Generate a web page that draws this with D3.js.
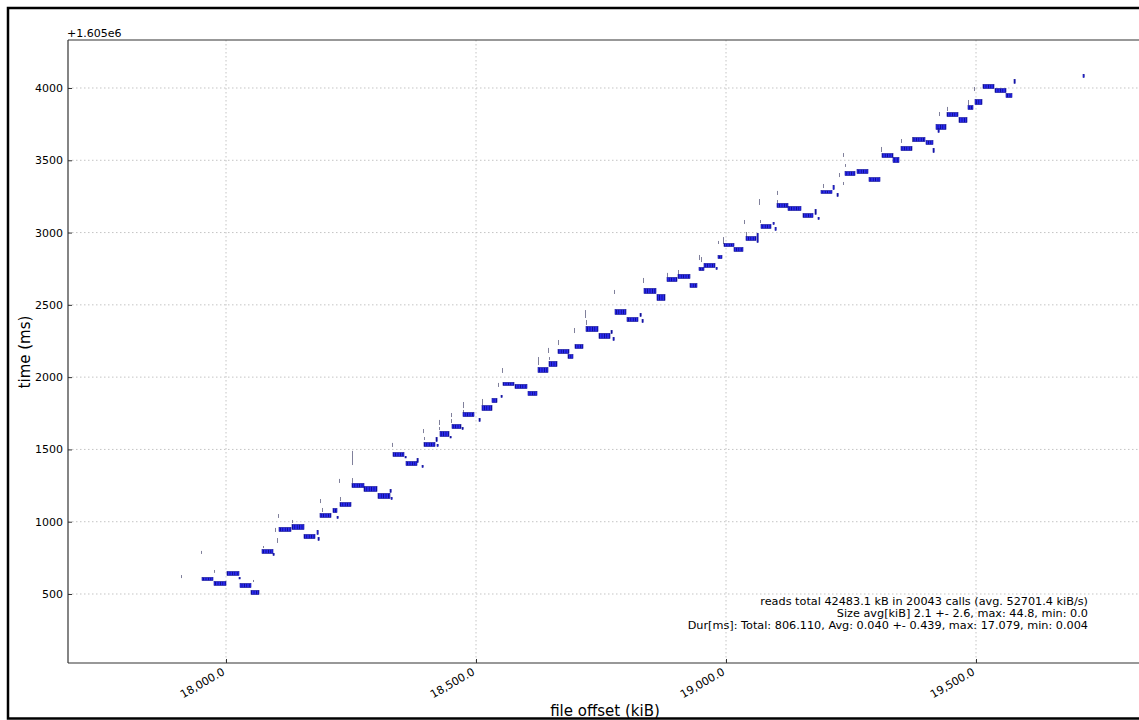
<!DOCTYPE html>
<html>
<head>
<meta charset="utf-8">
<script src="https://cdn.jsdelivr.net/npm/d3@7/dist/d3.min.js"></script>
<style>
  html, body { margin: 0; padding: 0; background: #fff; }
  svg { display: block; }
  text { font-family: "DejaVu Sans", sans-serif; fill: #000; }
</style>
</head>
<body>
<svg id="chart" width="1139" height="720"></svg>
<script>
// Read bursts: file offset range (kiB) and time range (ms, relative to 1.605e6)
const burstOffsetStart = [17952,17976,18002,18026,18028,18050,18072,18094,18106,18132,18156,18182,18184,18188,18214,18222,18228,18252,18276,18304,18328,18330,18334,18358,18360,18382,18392,18396,18420,18422,18428,18448,18452,18472,18474,18506,18512,18532,18550,18554,18578,18604,18624,18646,18664,18684,18698,18720,18746,18770,18774,18778,18802,18828,18832,18836,18862,18882,18904,18928,18946,18956,18980,18984,18996,19016,19040,19062,19070,19094,19098,19102,19124,19154,19178,19184,19190,19214,19222,19238,19262,19286,19312,19334,19350,19374,19400,19414,19420,19424,19442,19466,19484,19498,19514,19538,19560,19576,19714];
const burstOffsetEnd   = [17974,18000,18026,18028,18050,18066,18094,18096,18130,18156,18178,18184,18186,18210,18222,18224,18250,18276,18302,18328,18330,18332,18356,18360,18382,18384,18394,18418,18422,18424,18446,18450,18470,18474,18496,18508,18532,18542,18552,18576,18602,18622,18644,18662,18686,18694,18714,18744,18768,18772,18776,18800,18824,18830,18834,18860,18878,18902,18928,18942,18956,18978,18982,18992,19016,19034,19060,19064,19090,19096,19100,19124,19150,19174,19180,19186,19212,19216,19224,19258,19284,19308,19334,19346,19372,19398,19414,19416,19440,19426,19464,19482,19494,19512,19536,19560,19572,19578,19716];
const burstTimeStart   = [590,556,625,604,541,493,777,763,929,943,880,908,867,1026,1060,1019,1102,1233,1206,1157,1199,1150,1448,1441,1385,1406,1372,1517,1551,1517,1586,1579,1641,1634,1724,1690,1766,1821,1856,1939,1918,1870,2029,2070,2160,2126,2195,2312,2264,2298,2250,2430,2381,2416,2374,2575,2527,2658,2679,2617,2734,2755,2741,2817,2900,2866,2942,2928,3025,3052,3011,3170,3149,3101,3122,3087,3267,3294,3246,3391,3405,3350,3516,3481,3564,3626,3606,3550,3710,3689,3799,3758,3848,3882,3993,3965,3931,4028,4069];
const burstTimeEnd     = [618,590,659,618,576,528,811,784,964,984,915,943,894,1060,1095,1040,1136,1268,1247,1199,1226,1171,1482,1455,1420,1441,1392,1551,1586,1538,1628,1593,1676,1655,1759,1717,1807,1856,1877,1967,1953,1905,2070,2112,2195,2160,2229,2354,2306,2326,2278,2471,2416,2444,2402,2617,2575,2693,2714,2651,2762,2790,2762,2845,2928,2900,2976,2997,3059,3073,3039,3205,3184,3135,3163,3108,3294,3329,3274,3426,3440,3384,3550,3523,3599,3661,3640,3585,3751,3723,3834,3799,3882,3924,4028,4000,3965,4062,4097];

// Slow single reads: offset (kiB) and time span (ms)
const slowOffset    = [17910,17950,17976,18054,18074,18102,18098,18104,18132,18188,18192,18226,18228,18252,18252,18332,18394,18396,18426,18426,18450,18450,18474,18474,18512,18544,18552,18624,18644,18646,18664,18696,18718,18720,18776,18834,18882,18904,18946,18950,18984,18994,19036,19040,19066,19068,19102,19102,19194,19226,19234,19234,19238,19310,19350,19372,19424,19426,19442,19484,19496];
const slowTimeStart = [610,777,646,583,818,853,929,1026,991,1129,1067,1268,1143,1392,1268,1517,1613,1565,1669,1634,1724,1683,1786,1738,1807,1932,2029,2084,2167,2119,2222,2305,2409,2361,2575,2651,2693,2707,2810,2796,2921,2921,3059,2969,3191,3066,3260,3205,3308,3384,3329,3523,3454,3557,3620,3626,3723,3806,3841,3882,3979];
const slowTimeEnd   = [631,798,666,597,832,887,957,1053,1012,1157,1095,1296,1171,1490,1302,1545,1641,1586,1704,1655,1752,1710,1828,1773,1849,1960,2063,2139,2202,2139,2257,2340,2464,2395,2603,2686,2721,2741,2845,2831,2942,2969,3087,3004,3232,3087,3288,3225,3336,3412,3350,3550,3474,3592,3647,3661,3744,3834,3869,3917,4007];

const xTickValues = [18000, 18500, 19000, 19500];
const yTickValues = [500, 1000, 1500, 2000, 2500, 3000, 3500, 4000];
const yOffsetText = "+1.605e6";
const statLines = [
  "reads total 42483.1 kB in 20043 calls (avg. 52701.4 kiB/s)",
  "Size avg[kiB] 2.1 +- 2.6, max: 44.8, min: 0.0",
  "Dur[ms]: Total: 806.110, Avg: 0.040 +- 0.439, max: 17.079, min: 0.004"
];

const svg = d3.select("#chart");
const W = 1139, H = 720;
const plot = { left: 68, top: 40, right: 1150, bottom: 663 };

// Figure frame
svg.append("rect")
  .attr("x", 8).attr("y", 8).attr("width", W + 20).attr("height", 710.5)
  .attr("fill", "none").attr("stroke", "#000").attr("stroke-width", 2.5);

const x = d3.scaleLinear().domain([17684, 19848]).range([plot.left, plot.right]);
const y = d3.scaleLinear().domain([22.7, 4332]).range([plot.bottom, plot.top]);

// Stripe pattern for the dense read bursts
const defs = svg.append("defs");
const pat = defs.append("pattern")
  .attr("id", "burstFill").attr("patternUnits", "userSpaceOnUse")
  .attr("width", 2.4).attr("height", 4);
pat.append("rect").attr("width", 2.4).attr("height", 4).attr("fill", "#2a2af0");
pat.append("rect").attr("x", 1.6).attr("width", 0.8).attr("height", 4).attr("fill", "#0c0c8c");

defs.append("clipPath").attr("id", "plotClip")
  .append("rect").attr("x", plot.left).attr("y", plot.top)
  .attr("width", plot.right - plot.left).attr("height", plot.bottom - plot.top);

// Grid
const grid = svg.append("g");
grid.selectAll("line.gx").data(xTickValues).join("line")
  .attr("x1", d => x(d)).attr("x2", d => x(d))
  .attr("y1", plot.top).attr("y2", plot.bottom)
  .attr("stroke", "#c4c4c4").attr("stroke-width", 1).attr("stroke-dasharray", "1.5,2.5");
grid.selectAll("line.gy").data(yTickValues).join("line")
  .attr("x1", plot.left).attr("x2", plot.right)
  .attr("y1", d => y(d)).attr("y2", d => y(d))
  .attr("stroke", "#c4c4c4").attr("stroke-width", 1).attr("stroke-dasharray", "1.5,2.5");

const marks = svg.append("g").attr("clip-path", "url(#plotClip)");

// Slow reads as thin vertical strokes
marks.selectAll("line.slow").data(slowOffset.map((o, i) => ({ o, t0: slowTimeStart[i], t1: slowTimeEnd[i] })))
  .join("line")
  .attr("x1", d => x(d.o) + 0.5).attr("x2", d => x(d.o) + 0.5)
  .attr("y1", d => y(d.t1)).attr("y2", d => y(d.t0))
  .attr("stroke", "#55557a").attr("stroke-width", 1).attr("stroke-opacity", 0.75);

// Read bursts
const bursts = burstOffsetStart.map((s, i) => ({
  s, e: burstOffsetEnd[i], t0: burstTimeStart[i], t1: burstTimeEnd[i]
}));
marks.selectAll("rect.burst").data(bursts).join("rect")
  .attr("x", d => x(d.s))
  .attr("y", d => y(d.t1) + 0.5)
  .attr("width", d => Math.max(1.2, x(d.e) - x(d.s)))
  .attr("height", d => Math.max(1.5, y(d.t0) - y(d.t1) - 1))
  .attr("fill", "url(#burstFill)")
  .attr("stroke", "#10109a").attr("stroke-width", 0.6);

// Axes (ticks point inward)
const xAxis = d3.axisBottom(x).tickValues(xTickValues).tickSize(-4).tickPadding(6)
  .tickFormat(d => d3.format(",.1f")(d));
const gx = svg.append("g").attr("transform", `translate(0,${plot.bottom})`).call(xAxis);
gx.select(".domain").remove();
gx.selectAll(".tick line").attr("stroke", "#333");
gx.selectAll(".tick text")
  .attr("font-size", 11).attr("font-family", "DejaVu Sans, sans-serif")
  .attr("text-anchor", "end")
  .attr("x", 0).attr("y", 0).attr("dy", 0)
  .attr("transform", "translate(-1,11) rotate(-30)");

const yAxis = d3.axisLeft(y).tickValues(yTickValues).tickSize(-4).tickPadding(5)
  .tickFormat(d3.format("d"));
const gy = svg.append("g").attr("transform", `translate(${plot.left},0)`).call(yAxis);
gy.select(".domain").remove();
gy.selectAll(".tick line").attr("stroke", "#333");
gy.selectAll(".tick text").attr("font-size", 11).attr("font-family", "DejaVu Sans, sans-serif");

// Spines
svg.append("line").attr("x1", plot.left).attr("x2", plot.left)
  .attr("y1", plot.top).attr("y2", plot.bottom).attr("stroke", "#333").attr("stroke-width", 1.2);
svg.append("line").attr("x1", plot.left).attr("x2", plot.right)
  .attr("y1", plot.bottom).attr("y2", plot.bottom).attr("stroke", "#333").attr("stroke-width", 1.2);
svg.append("line").attr("x1", plot.left).attr("x2", plot.right)
  .attr("y1", plot.top).attr("y2", plot.top).attr("stroke", "#333").attr("stroke-width", 1.2);

// Offset note
svg.append("text").attr("x", plot.left - 1).attr("y", 37)
  .attr("font-size", 11).text(yOffsetText);

// Axis labels
svg.append("text").attr("x", 605).attr("y", 716)
  .attr("text-anchor", "middle").attr("font-size", 15).text("file offset (kiB)");
svg.append("text").attr("transform", "translate(30,352) rotate(-90)")
  .attr("text-anchor", "middle").attr("font-size", 15).text("time (ms)");

// Summary statistics
svg.append("g").selectAll("text").data(statLines).join("text")
  .attr("x", 1088).attr("y", (d, i) => 605 + i * 11.8)
  .attr("text-anchor", "end").attr("font-size", 11.25).text(d => d);
</script>
</body>
</html>
